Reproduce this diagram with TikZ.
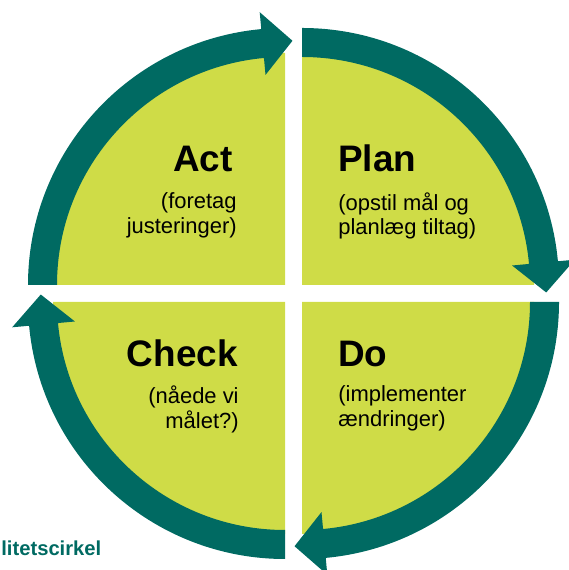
\documentclass[tikz,border=0pt]{standalone}
\usepackage{fontspec}
\setmainfont{Liberation Sans}
\usetikzlibrary{calc}
\definecolor{petrol}{HTML}{006A62}
\definecolor{limette}{HTML}{CFDC47}

\begin{document}
\begin{tikzpicture}[x=0.02cm, y=0.02cm,
	titel/.style={font=\bfseries\fontsize{21}{24}\selectfont, inner sep=0pt},
	notiz/.style={font=\fontsize{12.5}{14.2}\selectfont, inner sep=0pt}]
	\def\R{257}
	\def\r{228}
	\def\m{242.5}
	\def\g{232}
	\useasboundingbox (0,0) rectangle (568,570);
	
	%Viertel
	\foreach \cx/\cy/\a in {285/285/90, 302/285/0, 302/268/-90, 285/268/180}{
		\fill[limette] (\cx,\cy) -- ++(\a:\g) arc[start angle=\a, end angle=\a+90, radius=\g] -- cycle;
	}
	
	%Pfeile
	\foreach \cx/\cy/\a in {285/285/180, 302/285/90, 302/268/0, 285/268/-90}{
		\pgfmathsetmacro{\e}{\a-84.7}
		\fill[petrol] (\cx,\cy) ++(\a:\R) arc[start angle=\a, end angle=\e, radius=\R]
			-- ($(\cx,\cy)+(\e:\R+17)$)
			-- ($(\cx,\cy)+(\e:\m)+(\e-90:30)$)
			-- ($(\cx,\cy)+(\e:\r-17)$)
			-- ($(\cx,\cy)+(\e:\r)$)
			arc[start angle=\e, end angle=\a, radius=\r] -- cycle;
	}
	
	%Texte
	\node[titel, anchor=base east] (act) at (233,398) {Act};
	\node[notiz, anchor=north east, align=right] (actnote) at (237,378) {(foretag\\justeringer)};
	\node[titel, anchor=base west] (plan) at (338,398) {Plan};
	\node[notiz, anchor=north west, align=left] (plannote) at (338,378) {(opstil mål og\\planlæg tiltag)};
	\node[titel, anchor=base east] (check) at (238,203) {Check};
	\node[notiz, anchor=north east, align=right] (checknote) at (239,185) {(nåede vi\\målet?)};
	\node[titel, anchor=base west] (do) at (338,203) {Do};
	\node[notiz, anchor=north west, align=left] (donote) at (338,185) {(implementer\\ændringer)};
	
	\node[font=\bfseries\fontsize{11.5}{13}\selectfont, text=petrol, inner sep=0pt, anchor=base west] (name) at (1,14) {litetscirkel};
	
\end{tikzpicture}
\end{document}
